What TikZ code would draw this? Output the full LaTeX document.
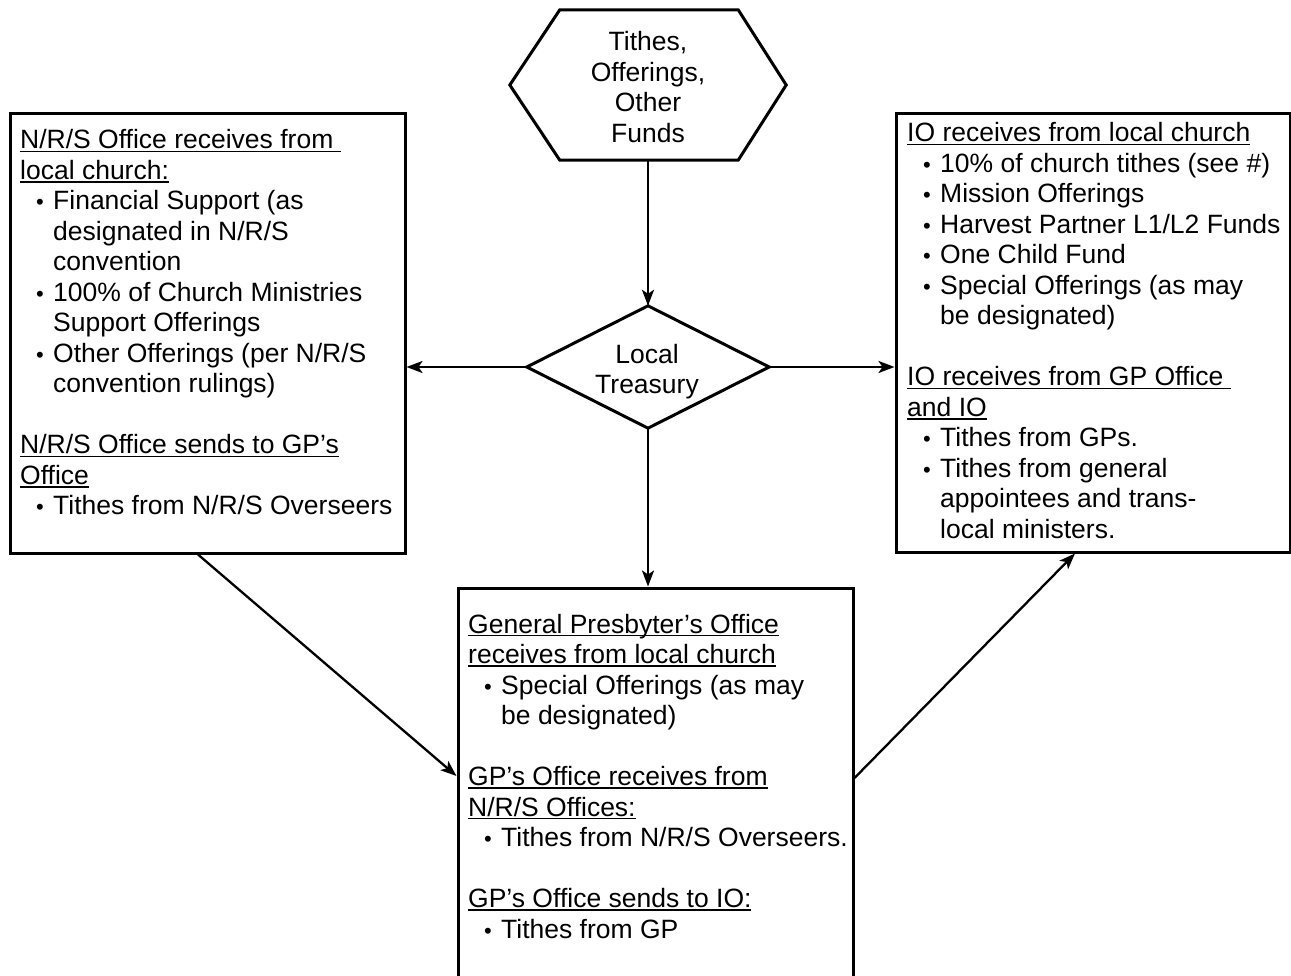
\documentclass[tikz,border=0pt]{standalone}
\usepackage{fontspec}
\setmainfont{Liberation Sans}
\usetikzlibrary{arrows.meta}
\newcommand{\myul}[1]{\setbox0=\hbox{#1}\rlap{\rule[-3.4pt]{\wd0}{1.6pt}}\box0}
\newcommand{\hdl}[1]{\hbox{\myul{#1}}}
\newcommand{\bul}[1]{\hbox{\hbox to 33pt{\hskip 16pt{\fontsize{22}{22}\selectfont •}\hss}#1}}
\newcommand{\cnt}[1]{\hbox{\hskip 33pt #1}}
\newcommand{\blk}{\hbox{}}
\newcommand{\cl}[1]{\hbox to 0pt{\hss #1\hss}}
\newcommand{\mylines}[1]{\vtop{\baselineskip=30.5pt\lineskiplimit=-100pt\lineskip=0pt #1}}
\begin{document}
\begin{tikzpicture}[x=1pt,y=-1pt,
  boxnode/.style={draw, line width=3pt, inner sep=0pt},
  shapeline/.style={line width=3pt, line join=miter},
  conn/.style={line width=2.3pt, -{Stealth[length=16pt,width=12pt,inset=4pt]}},
  txt/.style={inner sep=0pt, font=\fontsize{26.5}{30.5}\selectfont}]
\useasboundingbox (0,0) rectangle (1291,976);
% shapes
\node[inner sep=0pt, minimum width=276pt, minimum height=150pt] (src) at (648,85) {};
\draw[shapeline] ([xshift=50pt]src.north west) -- ([xshift=-48pt]src.north east) -- (src.east)
  -- ([xshift=-48pt]src.south east) -- ([xshift=50pt]src.south west) -- (src.west) -- cycle;
\node[inner sep=0pt, minimum width=242pt, minimum height=122pt] (treas) at (648,367) {};
\draw[shapeline] (treas.north) -- (treas.east) -- (treas.south) -- (treas.west) -- cycle;
\node[boxnode, minimum width=395pt, minimum height=439pt] (lb) at (207.5,333.5) {};
\node[boxnode, minimum width=394pt, minimum height=438pt] (rb) at (1093,333) {};
\node[boxnode, minimum width=395pt, minimum height=404pt] (gp) at (655.5,790) {};
% texts
\node[txt, anchor=base] (srct) at (648,51) {\mylines{\cl{Tithes,}\cl{Offerings,}\cl{Other}\cl{Funds}}};
\node[txt, anchor=base] (treast) at (647,363) {\mylines{\cl{Local}\cl{Treasury}}};
\node[txt, anchor=base west] (lbt) at (20,149) {\mylines{%
\hdl{N/R/S Office receives from\ }
\hdl{local church:}
\bul{Financial Support (as}
\cnt{designated in N/R/S}
\cnt{convention}
\bul{100\% of Church Ministries}
\cnt{Support Offerings}
\bul{Other Offerings (per N/R/S}
\cnt{convention rulings)}
\blk
\hdl{N/R/S Office sends to GP’s}
\hdl{Office}
\bul{Tithes from N/R/S Overseers}}};
\node[txt, anchor=base west] (rbt) at (907,142) {\mylines{%
\hdl{IO receives from local church}
\bul{10\% of church tithes (see \#)}
\bul{Mission Offerings}
\bul{Harvest Partner L1/L2 Funds}
\bul{One Child Fund}
\bul{Special Offerings (as may}
\cnt{be designated)}
\blk
\hdl{IO receives from GP Office\ }
\hdl{and IO}
\bul{Tithes from GPs.}
\bul{Tithes from general}
\cnt{appointees and trans-}
\cnt{local ministers.}}};
\node[txt, anchor=base west] (gpt) at (468,633) {\mylines{%
\hdl{General Presbyter’s Office}
\hdl{receives from local church}
\bul{Special Offerings (as may}
\cnt{be designated)}
\blk
\hdl{GP’s Office receives from}
\hdl{N/R/S Offices:}
\bul{Tithes from N/R/S Overseers.}
\blk
\hdl{GP’s Office sends to IO:}
\bul{Tithes from GP}}};
% connectors
\draw[conn] (src.south) -- (treas.north);
\draw[conn] (treas.west) -- (treas.west -| lb.east);
\draw[conn] (treas.east) -- (treas.east -| rb.west);
\draw[conn] (treas.south) -- (treas.south |- gp.north);
\draw[conn] ([xshift=-9.5pt]lb.south) -- ([yshift=14pt]gp.west);
\draw[conn] ([yshift=12pt]gp.east) -- ([xshift=-18pt]rb.south);
\end{tikzpicture}
\end{document}
